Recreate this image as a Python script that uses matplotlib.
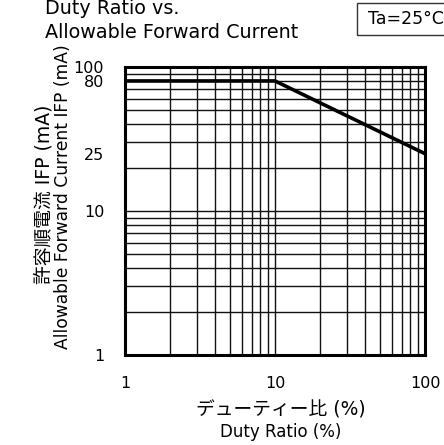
import numpy as np
import matplotlib
matplotlib.use('Agg')
import matplotlib.pyplot as plt
from matplotlib.patches import Rectangle

plt.rcParams['font.family'] = ['DejaVu Sans', 'Noto Sans CJK JP']

# Data
duty = [1, 10, 100]
ifp = [80, 80, 25]
ytick_vals = [1, 10, 25, 80, 100]
xtick_vals = [1, 10, 100]

fig = plt.figure(figsize=(4.44, 4.45), dpi=100)
ax = fig.add_axes([125/444, 1-355/445, 300/444, 288/445])
ax.set_xscale('log')
ax.set_yscale('log')
ax.set_xlim(1, 100)
ax.set_ylim(1, 100)

# grid lines at every 1..9 x 10^n
grid = [m*10**e for e in range(0, 2) for m in range(1, 10)] + [100]
for g in grid:
    ax.axvline(g, color='#111', lw=1.0, zorder=1)
    ax.axhline(g, color='#111', lw=1.0, zorder=1)

ax.plot(duty, ifp, color='k', lw=2.6, zorder=3, solid_capstyle='butt')

for s in ax.spines.values():
    s.set_linewidth(2.2)

ax.set_yticks(ytick_vals)
ax.set_yticklabels([str(v) for v in ytick_vals])
ax.set_xticks(xtick_vals)
ax.set_xticklabels([str(v) for v in xtick_vals])
ax.minorticks_off()
ax.tick_params(axis='both', length=0, labelsize=11.5)
ax.tick_params(axis='y', pad=15)
ax.tick_params(axis='x', pad=15)

fig.text(45/444, 1-8/445, 'Duty Ratio vs.', fontsize=13.8, ha='left', va='center')
fig.text(45/444, 1-32/445, 'Allowable Forward Current', fontsize=13.8, ha='left', va='center')

fig.text(44/444, 1-194/445, '許容順電流 IFP (mA)', fontsize=13.5, rotation=90,
         ha='center', va='center')
fig.text(63/444, 1-197/445, 'Allowable Forward Current IFP (mA)', fontsize=12.3,
         rotation=90, ha='center', va='center')

fig.text(281/444, 1-410/445, 'デューティー比 (%)', fontsize=13.5, ha='center', va='center')
fig.text(281/444, 1-432/445, 'Duty Ratio (%)', fontsize=12, ha='center', va='center')

fig.patches.append(Rectangle((357/444, 1-35/445), 100/444, 32/445,
                             transform=fig.transFigure, facecolor='white',
                             edgecolor='#333', lw=1))
fig.text(368/444, 1-19/445, 'Ta=25°C', fontsize=12.5, ha='left', va='center')

fig.savefig('out.png', dpi=100)
